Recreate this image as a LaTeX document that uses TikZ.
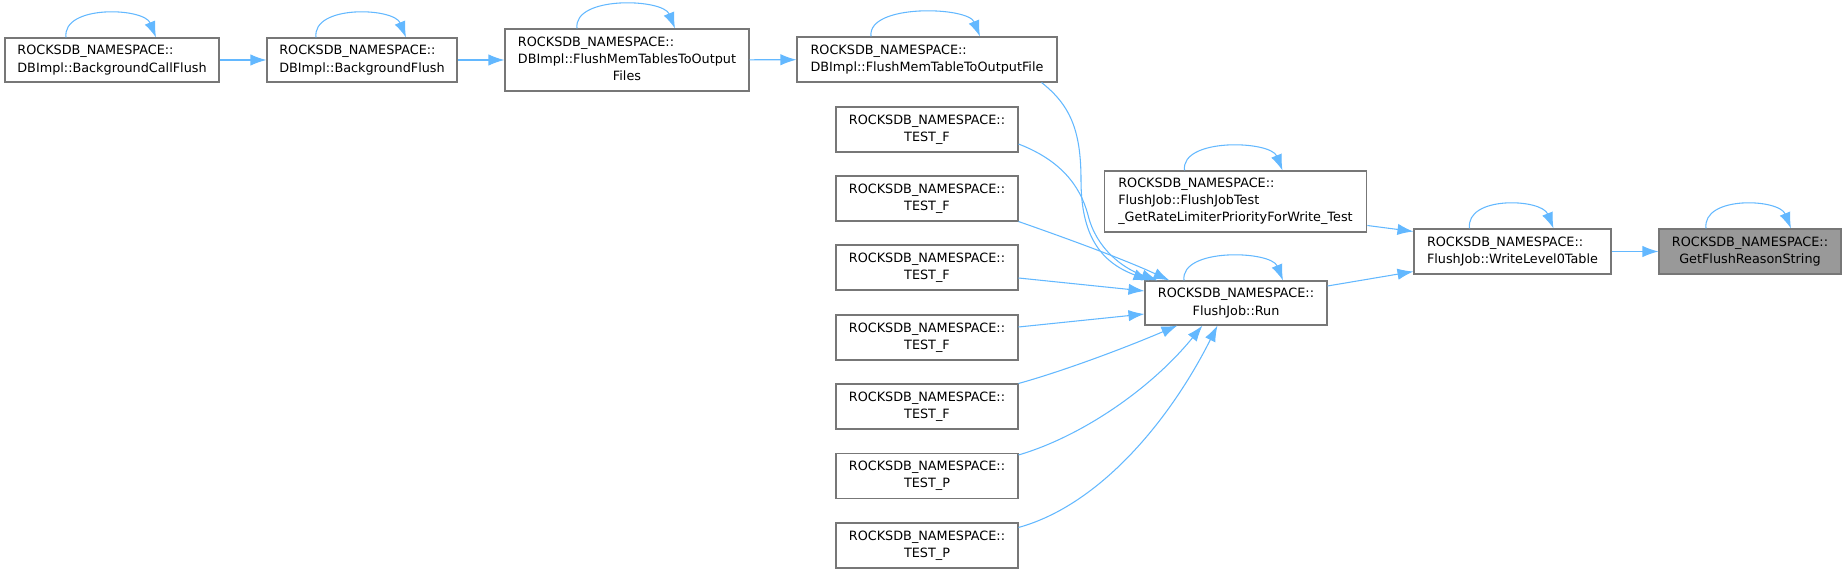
\documentclass[tikz,border=0pt]{standalone}
\usepackage{fontspec}
\setmainfont{DejaVu Sans}
\usetikzlibrary{arrows.meta}
\definecolor{edgeblue}{HTML}{63B8FF}
\definecolor{boxgray}{HTML}{777777}
\definecolor{rootgray}{HTML}{999999}

\begin{document}
\begin{tikzpicture}[x=0.75pt, y=-0.75pt, font=\fontsize{9.6}{12.9}\selectfont,
    box/.style={draw=boxgray, line width=0.8pt, fill=white, inner sep=0pt, align=left},
    testbox/.style={box, align=center, minimum width=136.5pt, minimum height=33.75pt},
    rootbox/.style={box, fill=rootgray, align=center},
    edge/.style={draw=edgeblue, line width=0.8pt, -{Latex[length=12pt,width=8.5pt]}}]
        \useasboundingbox (0,0) rectangle (1846,573);

        \node[box, minimum width=160.5pt, minimum height=33pt] (bcf) at (112,60) {ROCKSDB\_NAMESPACE::\\DBImpl::BackgroundCallFlush};
        \node[box, minimum width=142.5pt, minimum height=33pt] (bgflush) at (362,60) {ROCKSDB\_NAMESPACE::\\DBImpl::BackgroundFlush};
        \node[box, minimum width=183pt, minimum height=46.5pt] (fmts) at (627,60) {\begin{tabular}{@{}l@{}}ROCKSDB\_NAMESPACE::\\DBImpl::FlushMemTablesToOutput\\\multicolumn{1}{@{}c@{}}{Files}\end{tabular}};
        \node[box, minimum width=195pt, minimum height=33.75pt] (fmt) at (927,59.5) {ROCKSDB\_NAMESPACE::\\DBImpl::FlushMemTableToOutputFile};

        \foreach \i/\y/\t in {1/129.5/F, 2/198.5/F, 3/267.5/F, 4/337.5/F, 5/406.5/F, 6/476/P, 7/545.5/P}
            \node[testbox] (test\i) at (927,\y) {ROCKSDB\_NAMESPACE::\\TEST\_\t};

        \node[box, minimum width=197pt, minimum height=45.75pt] (fjtest) at (1235.5,201.5) {ROCKSDB\_NAMESPACE::\\FlushJob::FlushJobTest\\\_GetRateLimiterPriorityForWrite\_Test};
        \node[box, align=center, minimum width=136.5pt, minimum height=33pt] (run) at (1236,303) {ROCKSDB\_NAMESPACE::\\FlushJob::Run};
        \node[box, minimum width=147.75pt, minimum height=33.75pt] (wl0) at (1512.5,251.5) {ROCKSDB\_NAMESPACE::\\FlushJob::WriteLevel0Table};
        \node[rootbox, minimum width=136.5pt, minimum height=33.75pt] (gfrs) at (1750,251.5) {ROCKSDB\_NAMESPACE::\\GetFlushReasonString};

        \draw[edge] (bcf) -- (bgflush);
        \draw[edge] (bgflush) -- (fmts);
        \draw[edge] (fmts) -- (fmt);
        \draw[edge] (wl0) -- (gfrs);
        \draw[edge] ([shift={(0,24)}]fjtest.east) -- ([shift={(0,-20)}]wl0.west);
        \draw[edge] ([shift={(0,-17)}]run.east) -- ([shift={(0,20)}]wl0.west);

        \draw[edge] ([shift={(-16,0)}]fmt.south east) .. controls (1070,105) and (1081,130) .. (1081,180)
            .. controls (1081,235) and (1100,262) .. ([shift={(5,0)}]run.north west);
        \draw[edge] ([shift={(0,14.5)}]test1.east) .. controls (1060,160) and (1080,185) .. (1088,215)
            .. controls (1096,248) and (1122,268) .. ([shift={(13,0)}]run.north west);
        \draw[edge] (test2.south east) .. controls (1080,243) and (1130,262) .. ([shift={(25,0)}]run.north west);
        \draw[edge] ([shift={(0,10.5)}]test3.east) -- ([shift={(0,-12)}]run.west);
        \draw[edge] ([shift={(0,-10.5)}]test4.east) -- ([shift={(0,11)}]run.west);
        \draw[edge] (test5.north east) .. controls (1060,372) and (1120,350) .. ([shift={(33,0)}]run.south west);
        \draw[edge] ([shift={(0,2)}]test6.north east) .. controls (1080,437) and (1150,390) .. ([shift={(58,0)}]run.south west);
        \draw[edge] ([shift={(0,5)}]test7.north east) .. controls (1100,505) and (1170,420) .. ([shift={(73,0)}]run.south west);

        \foreach \n/\a/\b in {bcf/-46/44, bgflush/-46/44, fmts/-50/48, fmt/-56/53, fjtest/-51/47, run/-52/47, wl0/-43/41, gfrs/-44/41}
            \draw[edge] ([shift={(\a,0)}]\n.north) .. controls +(-4,-33) and +(-12,-30) .. ([shift={(\b,0)}]\n.north);
\end{tikzpicture}
\end{document}
